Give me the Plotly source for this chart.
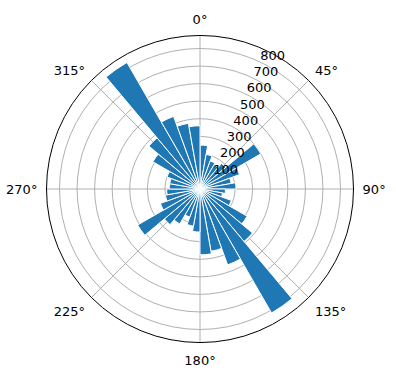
import plotly.graph_objects as go

# bin centres (degrees, clockwise from north) and bar heights
theta_deg = [5, 15, 25, 35, 45, 55, 65, 75, 85,
             95, 105, 115, 125, 135, 145, 155, 165, 175,
             185, 195, 205, 215, 225, 235, 245, 255, 265,
             275, 285, 295, 305, 315, 325, 335, 345, 355]
radii = [250, 200, 170, 160, 190, 400, 240, 180, 205,
         145, 130, 190, 310, 390, 815, 460, 360, 375,
         245, 215, 170, 230, 265, 410, 240, 200, 190,
         175, 175, 200, 310, 380, 832, 440, 380, 360]
bar_width_deg = 10

r_ticks = [100, 200, 300, 400, 500, 600, 700, 800]
angle_ticks = [0, 45, 90, 135, 180, 225, 270, 315]
angle_labels = [f"{a}°" for a in angle_ticks]

fig = go.Figure()
fig.add_trace(go.Barpolar(
    r=radii,
    theta=theta_deg,
    width=[bar_width_deg] * len(radii),
    marker=dict(color="#1f77b4", line=dict(color="white", width=1)),
    opacity=1,
))

fig.update_layout(
    width=396, height=380,
    margin=dict(l=0, r=0, t=0, b=0),
    paper_bgcolor="white",
    showlegend=False,
    font=dict(family="DejaVu Sans", size=13, color="black"),
    polar=dict(
        domain=dict(x=[46.5 / 396, 353.5 / 396], y=[1 - 342.5 / 380, 1 - 35.5 / 380]),
        bgcolor="white",
        bargap=0,
        radialaxis=dict(
            range=[0, 874],
            tickvals=r_ticks,
            ticktext=[f"{v}<br> " for v in r_ticks],
            angle=67.5,
            tickangle=67.5,
            showline=False,
            ticks="",
            gridcolor="#b0b0b0",
            gridwidth=0.8,
            tickfont=dict(size=13, color="black"),
            layer="above traces",
        ),
        angularaxis=dict(
            rotation=90,
            direction="clockwise",
            tickvals=angle_ticks,
            ticktext=angle_labels,
            showline=True,
            linecolor="black",
            linewidth=1,
            gridcolor="#b0b0b0",
            gridwidth=0.8,
            ticks="outside",
            ticklen=6,
            tickcolor="rgba(0,0,0,0)",
            tickfont=dict(size=13, color="black"),
            layer="above traces",
        ),
    ),
)

fig.write_html("out.html")
